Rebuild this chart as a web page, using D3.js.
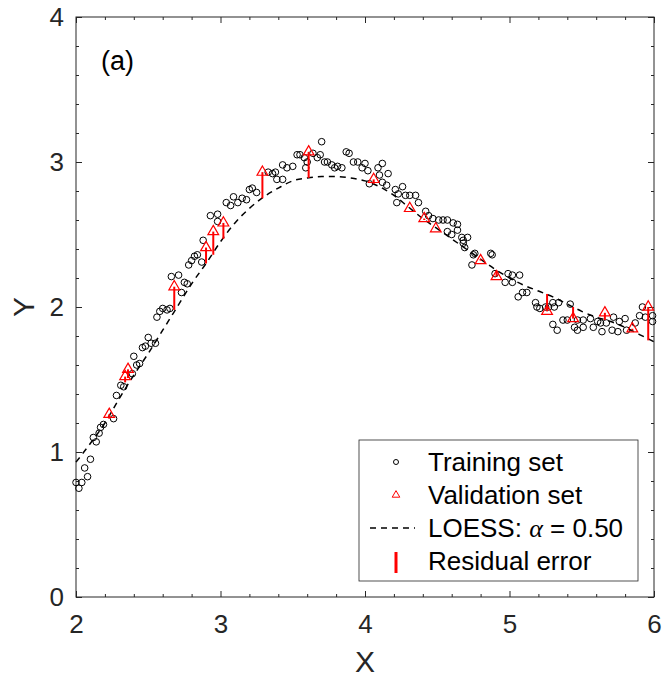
<!DOCTYPE html>
<html>
<head>
<meta charset="utf-8">
<script src="https://cdn.jsdelivr.net/npm/d3@7"></script>
<style>
  body { margin: 0; background: #fff; }
  svg { font-family: "Liberation Sans", Arial, sans-serif; }
  .axis text { font-size: 26px; fill: #262626; }
  .axis line { stroke: #262626; }
  .axis path { display: none; }
  .legend { font-size: 26px; fill: #000; }
</style>
</head>
<body>
<div id="chart"></div>
<script>
// training set (black circles)
var trainX = [2.00, 2.02, 2.04, 2.06, 2.08, 2.10, 2.12, 2.14, 2.16, 2.17, 2.19, 2.26, 2.28, 2.31, 2.33,
  2.39, 2.40, 2.42, 2.44, 2.46, 2.48, 2.50, 2.52, 2.55, 2.56, 2.58, 2.60, 2.63, 2.65, 2.66,
  2.71, 2.73, 2.75, 2.77, 2.78, 2.80, 2.82, 2.84, 2.87, 2.88, 2.93, 2.98, 2.98, 3.04, 3.07,
  3.09, 3.12, 3.15, 3.18, 3.20, 3.22, 3.25, 3.33, 3.36, 3.38, 3.39, 3.43, 3.43, 3.46, 3.50,
  3.53, 3.55, 3.58, 3.59, 3.60, 3.64, 3.67, 3.69, 3.70, 3.72, 3.74, 3.77, 3.79, 3.81, 3.84,
  3.87, 3.89, 3.92, 3.95, 3.98, 4.00, 4.02, 4.03, 4.09, 4.10, 4.12, 4.12, 4.15, 4.16, 4.21,
  4.22, 4.23, 4.26, 4.28, 4.31, 4.35, 4.37, 4.42, 4.44, 4.47, 4.51, 4.54, 4.57, 4.57, 4.60,
  4.61, 4.64, 4.64, 4.67, 4.68, 4.69, 4.71, 4.68, 4.74, 4.75, 4.76, 4.87, 4.88, 4.90, 4.97,
  4.99, 5.02, 5.02, 5.06, 5.07, 5.09, 5.12, 5.18, 5.19, 5.21, 5.25, 5.27, 5.30, 5.30, 5.31,
  5.33, 5.34, 5.37, 5.40, 5.42, 5.45, 5.47, 5.47, 5.51, 5.51, 5.56, 5.58, 5.61, 5.63, 5.64,
  5.67, 5.71, 5.72, 5.75, 5.76, 5.80, 5.81, 5.87, 5.90, 5.92, 5.94, 5.99, 5.99];
var trainY = [0.79, 0.75, 0.79, 0.89, 0.83, 0.95, 1.10, 1.07, 1.13, 1.17, 1.19, 1.23, 1.39, 1.46, 1.45,
  1.54, 1.66, 1.60, 1.61, 1.72, 1.73, 1.79, 1.75, 1.75, 1.93, 1.97, 1.99, 1.98, 1.99, 2.21,
  2.22, 2.10, 2.17, 2.16, 2.29, 2.32, 2.35, 2.36, 2.31, 2.46, 2.63, 2.64, 2.59, 2.72, 2.70,
  2.76, 2.72, 2.75, 2.74, 2.81, 2.82, 2.79, 2.93, 2.92, 2.93, 2.88, 2.98, 2.88, 2.96, 2.97,
  3.05, 3.05, 3.03, 2.96, 3.00, 3.06, 3.03, 3.05, 3.14, 3.00, 3.00, 2.98, 2.96, 2.97, 2.96,
  3.07, 3.06, 3.00, 3.00, 2.96, 2.99, 2.94, 2.85, 2.96, 2.91, 2.99, 2.86, 2.84, 2.92, 2.81,
  2.72, 2.78, 2.83, 2.77, 2.77, 2.77, 2.72, 2.66, 2.63, 2.61, 2.60, 2.60, 2.60, 2.52, 2.50,
  2.58, 2.57, 2.53, 2.48, 2.46, 2.41, 2.48, 2.44, 2.29, 2.36, 2.37, 2.37, 2.36, 2.23, 2.17,
  2.23, 2.22, 2.17, 2.07, 2.22, 2.10, 2.10, 2.03, 2.00, 1.99, 2.00, 2.00, 2.03, 1.88, 2.00,
  1.84, 2.03, 1.91, 1.91, 2.02, 1.86, 1.84, 1.91, 1.86, 1.91, 1.92, 1.86, 1.90, 1.89, 1.83,
  1.89, 1.84, 1.93, 1.83, 1.90, 1.92, 1.84, 1.89, 1.94, 2.00, 1.93, 1.94, 1.90];

// validation set (red triangles) and the LOESS value at each one
var valX = [2.23, 2.34, 2.36, 2.68, 2.90, 2.95, 3.02, 3.29, 3.61, 4.06, 4.31, 4.41, 4.49, 4.80, 4.91, 5.26, 5.44, 5.66, 5.85, 5.96];
var valY = [1.26, 1.52, 1.57, 2.14, 2.41, 2.52, 2.58, 2.93, 3.07, 2.88, 2.68, 2.61, 2.54, 2.32, 2.21, 1.97, 1.92, 1.96, 1.85, 2.00];
var valFit = [1.23, 1.48, 1.51, 1.98, 2.30, 2.36, 2.47, 2.75, 2.89, 2.85, 2.68, 2.60, 2.54, 2.33, 2.25, 2.09, 2.00, 1.91, 1.84, 1.77];

// LOESS curve
var loessX = [2.0, 2.1, 2.2, 2.3, 2.4, 2.5, 2.6, 2.7, 2.8, 2.9, 3.0, 3.1, 3.2, 3.3, 3.4, 3.5, 3.6, 3.7, 3.8, 3.9, 4.0,
  4.1, 4.2, 4.3, 4.4, 4.5, 4.6, 4.7, 4.8, 4.9, 5.0, 5.1, 5.2, 5.3, 5.4, 5.5, 5.6, 5.7, 5.8, 5.9, 6.0];
var loessY = [0.93, 1.06, 1.20, 1.37, 1.53, 1.68, 1.84, 2.00, 2.16, 2.30, 2.45, 2.58, 2.68, 2.76, 2.82, 2.87, 2.89, 2.90, 2.90, 2.89, 2.87,
  2.83, 2.77, 2.69, 2.61, 2.54, 2.47, 2.40, 2.33, 2.26, 2.20, 2.15, 2.11, 2.07, 2.02, 1.97, 1.93, 1.90, 1.86, 1.81, 1.76];

var xTicks = [2, 3, 4, 5, 6];
var yTicks = [0, 1, 2, 3, 4];
var xMinor = [2.2, 2.4, 2.6, 2.8, 3.2, 3.4, 3.6, 3.8, 4.2, 4.4, 4.6, 4.8, 5.2, 5.4, 5.6, 5.8];
var yMinor = [0.2, 0.4, 0.6, 0.8, 1.2, 1.4, 1.6, 1.8, 2.2, 2.4, 2.6, 2.8, 3.2, 3.4, 3.6, 3.8];

var margin = { top: 17, right: 9, bottom: 83, left: 76 };
var width = 663 - margin.left - margin.right;
var height = 680 - margin.top - margin.bottom;

var svg = d3.select('#chart').append('svg')
  .attr('width', 663)
  .attr('height', 680)
  .append('g')
  .attr('transform', 'translate(' + margin.left + ',' + margin.top + ')');

var x = d3.scaleLinear().domain([2, 6]).range([0, width]);
var y = d3.scaleLinear().domain([0, 4]).range([height, 0]);

// AXES (ticks point inward, box on)
svg.append('g').attr('class', 'axis')
  .attr('transform', 'translate(0,' + height + ')')
  .call(d3.axisBottom(x).tickValues(xTicks).tickSize(-6).tickPadding(18).tickFormat(d3.format('d')));
svg.append('g').attr('class', 'axis')
  .attr('transform', 'translate(0,' + height + ')')
  .call(d3.axisBottom(x).tickValues(xMinor).tickSize(-3).tickFormat(''));
svg.append('g').attr('class', 'axis')
  .call(d3.axisTop(x).tickValues(xTicks).tickSize(-6).tickFormat(''));
svg.append('g').attr('class', 'axis')
  .call(d3.axisTop(x).tickValues(xMinor).tickSize(-3).tickFormat(''));

svg.append('g').attr('class', 'axis')
  .call(d3.axisLeft(y).tickValues(yTicks).tickSize(-6).tickPadding(12).tickFormat(d3.format('d')));
svg.append('g').attr('class', 'axis')
  .call(d3.axisLeft(y).tickValues(yMinor).tickSize(-3).tickFormat(''));
svg.append('g').attr('class', 'axis')
  .attr('transform', 'translate(' + width + ',0)')
  .call(d3.axisRight(y).tickValues(yTicks).tickSize(-6).tickFormat(''));
svg.append('g').attr('class', 'axis')
  .attr('transform', 'translate(' + width + ',0)')
  .call(d3.axisRight(y).tickValues(yMinor).tickSize(-3).tickFormat(''));

svg.append('rect')
  .attr('width', width)
  .attr('height', height)
  .attr('fill', 'none')
  .attr('stroke', '#262626')
  .attr('stroke-width', 1);

// axis titles
svg.append('text')
  .attr('x', width / 2)
  .attr('y', height + 75)
  .attr('text-anchor', 'middle')
  .style('font-size', '30px')
  .style('fill', '#262626')
  .text('X');
svg.append('text')
  .attr('transform', 'translate(' + (-42) + ',' + (height / 2) + ') rotate(-90)')
  .attr('text-anchor', 'middle')
  .style('font-size', '30px')
  .style('fill', '#262626')
  .text('Y');

svg.append('text')
  .attr('x', 25)
  .attr('y', 53)
  .style('font-size', '27px')
  .text('(a)');

// TRAINING SET
var train = trainX.map(function(d, i) { return { x: d, y: trainY[i] }; });
svg.selectAll('.train')
  .data(train)
  .enter().append('circle')
  .attr('class', 'train')
  .attr('cx', function(d) { return x(d.x); })
  .attr('cy', function(d) { return y(d.y); })
  .attr('r', 3.3)
  .attr('fill', 'none')
  .attr('stroke', '#000')
  .attr('stroke-width', 1);

// LOESS
var loess = loessX.map(function(d, i) { return { x: d, y: loessY[i] }; });
svg.append('path')
  .datum(loess)
  .attr('fill', 'none')
  .attr('stroke', '#000')
  .attr('stroke-width', 1.5)
  .attr('stroke-dasharray', '6,5')
  .attr('d', d3.line()
    .curve(d3.curveMonotoneX)
    .x(function(d) { return x(d.x); })
    .y(function(d) { return y(d.y); }));

// VALIDATION + residuals
var val = valX.map(function(d, i) { return { x: d, y: valY[i], fit: valFit[i] }; });
svg.selectAll('.resid')
  .data(val)
  .enter().append('line')
  .attr('class', 'resid')
  .attr('x1', function(d) { return x(d.x); })
  .attr('x2', function(d) { return x(d.x); })
  .attr('y1', function(d) { return y(d.fit); })
  .attr('y2', function(d) { return y(d.y); })
  .attr('stroke', '#ff0000')
  .attr('stroke-width', 2);

var tri = d3.symbol().type(d3.symbolTriangle).size(50);
svg.selectAll('.val')
  .data(val)
  .enter().append('path')
  .attr('class', 'val')
  .attr('d', tri)
  .attr('transform', function(d) { return 'translate(' + x(d.x) + ',' + y(d.y) + ')'; })
  .attr('fill', 'none')
  .attr('stroke', '#ff0000')
  .attr('stroke-width', 1.2);

//LEGEND
var lg = svg.append('g').attr('transform', 'translate(' + (359 - margin.left) + ',' + (440 - margin.top) + ')');
lg.append('rect')
  .attr('width', 279)
  .attr('height', 141)
  .attr('fill', '#fff')
  .attr('stroke', '#262626')
  .attr('stroke-width', 0.8);

lg.append('circle')
  .attr('cx', 37).attr('cy', 22).attr('r', 2.5)
  .attr('fill', 'none').attr('stroke', '#000');
lg.append('path')
  .attr('d', d3.symbol().type(d3.symbolTriangle).size(25))
  .attr('transform', 'translate(37,55)')
  .attr('fill', 'none').attr('stroke', '#ff0000');
lg.append('line')
  .attr('x1', 11).attr('x2', 56).attr('y1', 88).attr('y2', 88)
  .attr('stroke', '#000').attr('stroke-width', 1.5).attr('stroke-dasharray', '6,5');
lg.append('line')
  .attr('x1', 37).attr('x2', 37).attr('y1', 112).attr('y2', 133)
  .attr('stroke', '#ff0000').attr('stroke-width', 3);

var labels = ['Training set', 'Validation set', null, 'Residual error'];
labels.forEach(function(t, i) {
  if (t === null) return;
  lg.append('text')
    .attr('class', 'legend')
    .attr('x', 69)
    .attr('y', 22 + i * 33)
    .attr('dy', '0.36em')
    .text(t);
});
var loessLabel = lg.append('text')
  .attr('class', 'legend')
  .attr('x', 69)
  .attr('y', 88)
  .attr('dy', '0.36em');
loessLabel.append('tspan').text('LOESS: ');
loessLabel.append('tspan')
  .style('font-family', '"Liberation Serif", serif')
  .style('font-style', 'italic')
  .text('\u03b1');
loessLabel.append('tspan').text(' = 0.50');
</script>
</body>
</html>
